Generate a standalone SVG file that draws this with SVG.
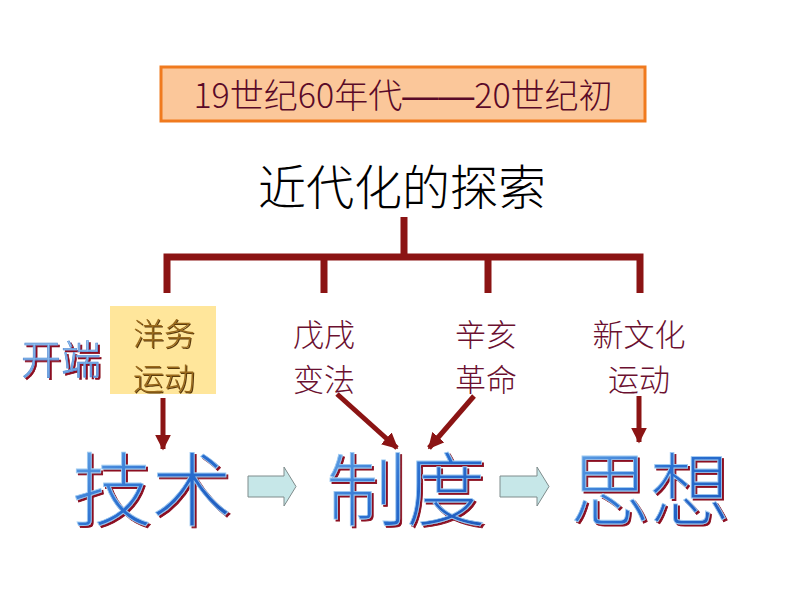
<svg xmlns="http://www.w3.org/2000/svg" width="800" height="600" viewBox="0 0 800 600">
<defs>
<style>
.cjk{font-family:"Noto Sans CJK SC","Liberation Sans",sans-serif;font-weight:300;}
.tree{stroke:#8B1414;stroke-width:7;fill:none;stroke-linecap:butt;}
.arr{stroke:#8B1414;stroke-width:5;fill:none;}
.lbl{font-size:31px;fill:#6B1030;text-anchor:middle;}
.big{font-size:80px;text-anchor:middle;fill:url(#blueg);stroke:#9FCBF2;stroke-width:0.8;filter:url(#sh);}
.blk{fill:#C6E7E8;stroke:#7F8C8C;stroke-width:1;}
</style>
<linearGradient id="blueg" x1="0" y1="0" x2="1" y2="1">
<stop offset="0" stop-color="#6FAEEA"/>
<stop offset="0.5" stop-color="#2A6FD0"/>
<stop offset="1" stop-color="#1C55B8"/>
</linearGradient>
<linearGradient id="blueg2" x1="0" y1="0" x2="0" y2="1">
<stop offset="0" stop-color="#A9D2F6"/>
<stop offset="1" stop-color="#5E9BE0"/>
</linearGradient>
<filter id="sh" x="-10%" y="-10%" width="130%" height="130%">
<feFlood flood-color="#8B1020" result="c"/>
<feComposite in="c" in2="SourceAlpha" operator="in" result="s"/>
<feOffset in="s" dx="2" dy="2" result="o"/>
<feMerge><feMergeNode in="o"/><feMergeNode in="SourceGraphic"/></feMerge>
</filter>
<filter id="sh2" x="-10%" y="-10%" width="130%" height="130%">
<feFlood flood-color="#5A3A10" result="c"/>
<feComposite in="c" in2="SourceAlpha" operator="in" result="s"/>
<feOffset in="s" dx="1" dy="1" result="o"/>
<feMerge><feMergeNode in="o"/><feMergeNode in="SourceGraphic"/></feMerge>
</filter>
<marker id="ah" viewBox="0 0 10 10" refX="9" refY="5" markerWidth="3.2" markerHeight="3.2" orient="auto" markerUnits="strokeWidth">
<path d="M0,0 L10,5 L0,10 z" fill="#8B1414"/>
</marker>
</defs>
<rect width="800" height="600" fill="#FFFFFF"/>

<g id="period">
<rect x="161" y="67" width="484" height="54" fill="#FBC79A" stroke="#F07A1E" stroke-width="3"/>
<text x="403" y="108" class="cjk" font-size="34" fill="#5A0A28" text-anchor="middle">19世纪60年代<tspan font-family="Liberation Sans" font-size="36">——</tspan>20世纪初</text>
</g>

<g id="root">
<text x="402" y="205" class="cjk" font-size="48" fill="#000000" text-anchor="middle">近代化的探索</text>
</g>

<g id="connectors">
<path class="tree" d="M404,217 V257 M163.5,257 H643.5 M167,254 V293 M324,257 V293 M488,257 V293 M640,254 V293"/>
<line class="arr" x1="163" y1="398" x2="163" y2="449" marker-end="url(#ah)"/>
<line class="arr" x1="337" y1="394" x2="397" y2="448" marker-end="url(#ah)"/>
<line class="arr" x1="474" y1="396" x2="429" y2="448" marker-end="url(#ah)"/>
<line class="arr" x1="639" y1="396" x2="639" y2="442" marker-end="url(#ah)"/>
</g>

<g id="kaiduan">
<text x="61" y="374" class="cjk" font-size="40" fill="url(#blueg2)" stroke="#4F86D0" stroke-width="0.6" text-anchor="middle" filter="url(#sh)">开端</text>
</g>

<g id="yangwu">
<rect x="110" y="306" width="106" height="88" fill="#FFE69B"/>
<text class="cjk lbl" x="164" y="345" style="fill:#9A6A1E" filter="url(#sh2)">洋务<tspan x="164" dy="45">运动</tspan></text>
</g>

<g id="wuxu">
<text class="cjk lbl" x="324" y="346">戊戌<tspan x="324" dy="45">变法</tspan></text>
</g>

<g id="xinhai">
<text class="cjk lbl" x="486" y="346">辛亥<tspan x="486" dy="45">革命</tspan></text>
</g>

<g id="xinwenhua">
<text class="cjk lbl" x="639" y="346">新文化<tspan x="639" dy="45">运动</tspan></text>
</g>

<g id="jishu">
<text class="cjk big" x="152" y="519">技术</text>
</g>

<g id="zhidu">
<text class="cjk big" x="406" y="519">制度</text>
</g>

<g id="sixiang">
<text class="cjk big" x="650" y="519">思想</text>
</g>

<g id="flow1">
<path class="blk" d="M248,476 H284 V467 L296,486.5 L284,506 V497 H248 Z"/>
</g>
<g id="flow2">
<path class="blk" d="M500,476 H537 V467 L549,486.5 L537,506 V497 H500 Z"/>
</g>
</svg>
